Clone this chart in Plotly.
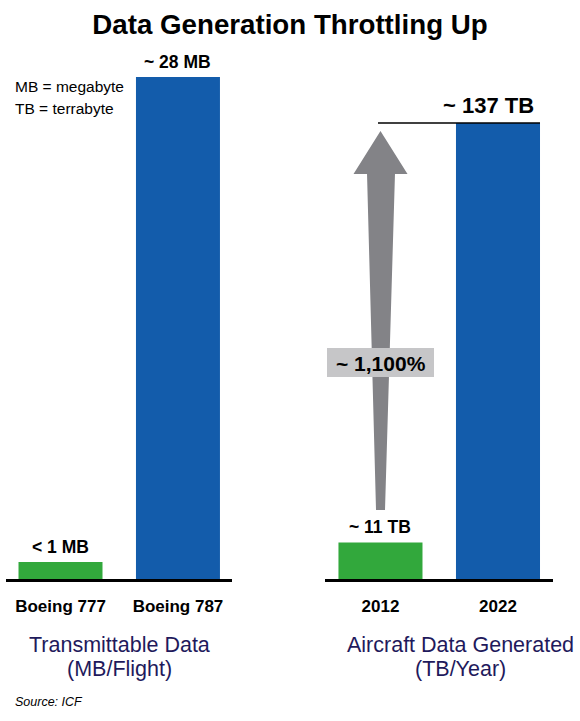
import plotly.graph_objects as go

W, H = 580, 721
FONT = "Liberation Sans"

# left panel
aircraft = ["Boeing 777", "Boeing 787"]
transmittable_mb = [0.95, 28]
left_labels = ["< 1 MB", "~ 28 MB"]

# right panel
years = ["2012", "2022"]
generated_tb = [11, 137]
right_labels = ["~ 11 TB", "~ 137 TB"]

bar_colors = ["#32a83c", "#135cab"]
navy = "#1f1a5c"


def px(x):
    return x / W


def py(y):
    return 1 - y / H


fig = go.Figure()
fig.add_trace(go.Bar(x=aircraft, y=transmittable_mb, width=0.715, marker_color=bar_colors,
                     marker_line_width=0, xaxis="x", yaxis="y", showlegend=False))
fig.add_trace(go.Bar(x=years, y=generated_tb, width=0.715, marker_color=bar_colors,
                     marker_line_width=0, xaxis="x2", yaxis="y2", showlegend=False))


def text(t, x, y, size, color="black", bold=False, xanchor="center", **kw):
    if bold:
        t = "<b>" + t + "</b>"
    fig.add_annotation(text=t, x=x, y=y, showarrow=False, xanchor=xanchor,
                       font=dict(family=FONT, size=size, color=color), **kw)


def note(t, x, y, size, color="black", bold=False, xanchor="center"):
    text(t, px(x), py(y), size, color, bold, xanchor, xref="paper", yref="paper", yanchor="middle")


# value labels sit on the bars, x is the category index
for i in range(2):
    text(left_labels[i], i, transmittable_mb[i], 17.5, bold=True,
         xref="x", yref="y", yanchor="bottom", yshift=3)
text(right_labels[0], 0, generated_tb[0], 17.5, bold=True,
     xref="x2", yref="y2", yanchor="bottom", yshift=3)
text(right_labels[1], 1, generated_tb[1], 22, bold=True,
     xref="x2", yref="y2", yanchor="bottom", yshift=3, xshift=-10)

# panel captions, key, source
note("Transmittable Data", 119, 645, 21.5, navy)
note("(MB/Flight)", 119, 669, 21.5, navy)
note("Aircraft Data Generated", 460, 645, 21.5, navy)
note("(TB/Year)", 460, 669, 21.5, navy)
note("MB = megabyte", 13, 87, 15.5, xanchor="left")
note("TB = terrabyte", 13, 109, 15.5, xanchor="left")
note("<i>Source: ICF</i>", 13, 702, 12.5, xanchor="left")

# grey growth arrow with its label and the line to the top of the 2022 bar
arrow = [(380.5, 131), (407.5, 174), (395, 174), (385, 510), (376, 510), (367, 174), (353.5, 174)]
path = "M " + " L ".join(f"{px(x):.4f} {py(y):.4f}" for x, y in arrow) + " Z"
fig.add_shape(type="path", path=path, xref="paper", yref="paper", fillcolor="#838387", line_width=0)
fig.add_shape(type="rect", x0=px(327), x1=px(434), y0=py(377), y1=py(348), xref="paper", yref="paper",
              fillcolor="#c6c6c8", line_width=0)
fig.add_shape(type="line", x0=px(378), x1=px(540), y0=py(123), y1=py(123), xref="paper", yref="paper",
              line=dict(color="black", width=1.5))
note("~ 1,100%", 380.5, 363, 21, bold=True)

axis_x = dict(showline=True, linecolor="black", linewidth=2.5, ticks="", showgrid=False, zeroline=False,
              type="category", ticklabelstandoff=10, tickfont=dict(family=FONT, size=17, color="black"))
axis_y = dict(visible=False, showgrid=False, zeroline=False)

fig.update_layout(
    width=W, height=H, margin=dict(l=0, r=0, t=0, b=0),
    paper_bgcolor="white", plot_bgcolor="white", showlegend=False,
    title=dict(text="<b>Data Generation Throttling Up</b>", x=0.5, xanchor="center", y=py(24), yanchor="middle",
               font=dict(family=FONT, size=27.7, color="black")),
    xaxis=dict(axis_x, domain=[px(6), px(232)], range=[-0.464, 1.46], anchor="y",
               tickvals=aircraft, ticktext=["<b>" + a + "</b>" for a in aircraft]),
    yaxis=dict(axis_y, domain=[py(579), py(60)], range=[0, 28.95], anchor="x"),
    xaxis2=dict(axis_x, domain=[px(325), px(553)], range=[-0.472, 1.468], anchor="y2",
                tickvals=years, ticktext=["<b>" + y + "</b>" for y in years]),
    yaxis2=dict(axis_y, domain=[py(579), py(60)], range=[0, 155.9], anchor="x2"),
)

fig.write_html("out.html", config={"displayModeBar": False}, post_script="document.body.style.margin='0';")
